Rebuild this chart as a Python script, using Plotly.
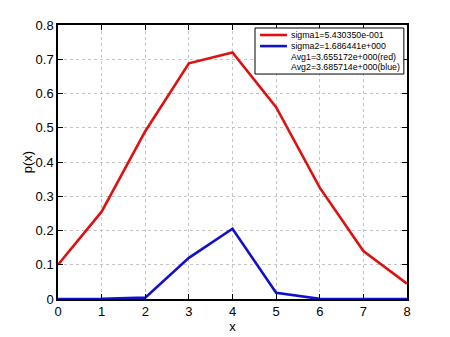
import plotly.graph_objects as go

x_vals = [0, 1, 2, 3, 4, 5, 6, 7, 8]
red_vals = [0.10, 0.255, 0.49, 0.688, 0.72, 0.56, 0.325, 0.14, 0.045]
blue_vals = [0.0, 0.0005, 0.004, 0.12, 0.205, 0.018, 0.0005, 0.0, 0.0]
legend_labels = ["sigma1=5.430350e-001", "sigma2=1.686441e+000",
                 "Avg1=3.655172e+000(red)", "Avg2=3.685714e+000(blue)"]
legend_colors = ["#dd1111", "#1111cc", None, None]
x_ticks = [0, 1, 2, 3, 4, 5, 6, 7, 8]
y_ticks = [0, 0.1, 0.2, 0.3, 0.4, 0.5, 0.6, 0.7, 0.8]
y_tick_text = ["0", "0.1", "0.2", "0.3", "0.4", "0.5", "0.6", "0.7", "0.8"]

font_family = "Liberation Sans, Arial, sans-serif"

fig = go.Figure()
fig.add_trace(go.Scatter(x=x_vals, y=red_vals, mode="lines", name=legend_labels[0],
                         line=dict(color=legend_colors[0], width=2.6), showlegend=False))
fig.add_trace(go.Scatter(x=x_vals, y=blue_vals, mode="lines", name=legend_labels[1],
                         line=dict(color=legend_colors[1], width=2.6), showlegend=False))

axis_common = dict(showline=True, linecolor="black", linewidth=1.5, mirror="ticks",
                   ticks="inside", ticklen=5, tickcolor="black", tickwidth=1.2,
                   showgrid=True, gridcolor="#c4c4c4", griddash="dot", gridwidth=1,
                   zeroline=False, automargin=False,
                   tickfont=dict(size=13, color="black", family=font_family))

fig.update_xaxes(range=[0, 8], tickvals=x_ticks,
                 title=dict(text="x", font=dict(size=13, color="black", family=font_family), standoff=4),
                 **axis_common)
fig.update_yaxes(range=[0, 0.8], tickvals=y_ticks, ticktext=y_tick_text,
                 title=dict(text="p(x)", font=dict(size=13, color="black", family=font_family), standoff=0),
                 **axis_common)

# Legend box (drawn manually for compact MATLAB-style spacing)
box_x0, box_x1, box_y0, box_y1 = 0.5645, 0.991, 0.821, 0.989
fig.add_shape(type="rect", xref="paper", yref="paper", x0=box_x0, x1=box_x1, y0=box_y0, y1=box_y1,
              line=dict(color="black", width=1), fillcolor="white", layer="above")
row_y = [0.9635, 0.923, 0.884, 0.847]
for label, color, yy in zip(legend_labels, legend_colors, row_y):
    if color:
        fig.add_shape(type="line", xref="paper", yref="paper", x0=0.579, x1=0.656, y0=yy, y1=yy,
                      line=dict(color=color, width=2.6), layer="above")
    fig.add_annotation(xref="paper", yref="paper", x=0.662, y=yy, text=label, showarrow=False,
                       xanchor="left", yanchor="middle",
                       font=dict(size=8.8, color="black", family=font_family))

fig.update_layout(
    width=450, height=337,
    margin=dict(l=58, r=43, t=25, b=38),
    paper_bgcolor="white", plot_bgcolor="white",
    font=dict(family=font_family, color="black"),
    showlegend=False,
)

fig.write_html("out.html")
